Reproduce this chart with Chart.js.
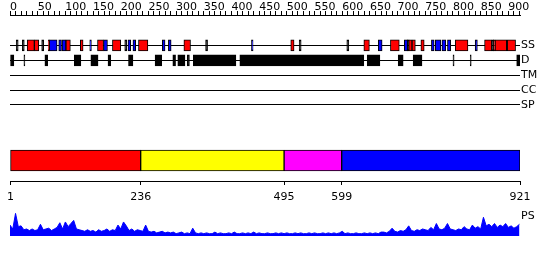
<!DOCTYPE html>
<html>
<head>
<meta charset="utf-8">
<script src="https://cdn.jsdelivr.net/npm/chart.js@4/dist/chart.umd.min.js"></script>
<style>
  body { margin: 0; background: #fff; }
  #wrap { position: relative; width: 550px; height: 260px; }
  canvas { position: absolute; left: 0; }
  #spacer { position: absolute; left: 0; top: 255px; width: 700px; height: 1px; z-index: 10; }
</style>
</head>
<body>
<div id="wrap">
  <canvas id="ruler" width="550" height="20" style="top:0px"></canvas>
  <canvas id="tracks" width="550" height="100" style="top:20px"></canvas>
  <canvas id="domains" width="550" height="65" style="top:140px"></canvas>
  <canvas id="profile" width="550" height="55" style="top:205px"></canvas>
  <div id="spacer"></div>
</div>
<script>
const SEQ_LEN = 921;

// ruler: a tick every 10 residues, a number every 50
const rulerTicks = [];
for (let v = 0; v <= 920; v += 10) rulerTicks.push(v);

const trackRows = ["SS", "D", "TM", "CC", "SP"];

// secondary structure (residue ranges)
const helixSegments = [[31,44],[44,52],[69,71],[101,109],[127,132],[158,169],[185,200],[232,249],[314,326],
  [507,513],[639,649],[687,703],[720,726],[726,732],[742,748],[804,827],[857,870],[873,876],[876,897],[898,913]];
const strandSegments = [[71,85],[88,93],[94,101],[144,147],[169,176],[213,218],[222,227],[275,280],[286,291],
  [436,439],[665,672],[712,718],[761,766],[768,778],[780,787],[790,796],[840,844]];
const ssMarkResidues = [13, 24, 59, 209, 355, 524, 610, 719, 872];

// disorder
const disorderSegments = [[1,7],[63,68],[116,128],[146,159],[177,182],[214,222],[262,274],[294,299],[303,316],
  [320,324],[331,408],[415,639],[645,668],[701,710],[728,744],[800,802],[915,921]];
const disorderMarkResidues = [26, 832];

// domain boundaries
const domainBounds = [1, 236, 495, 599, 921];
const domainColors = ["#ff0000", "#ffff00", "#ff00ff", "#0000ff"];

// PS profile, one score every 5 residues from residue 0
const profileStep = 5;
const profileScores = [
  14,9,29,12,13,8,9,7,9,7, 8,15,8,9,10,7,9,11,17,9,
  18,12,16,20,9,8,7,6,8,6, 7,5,8,6,7,9,6,8,7,14,
  9,18,13,7,9,6,8,7,6,14, 6,5,6,4,5,6,4,5,4,5,
  3,4,5,3,4,3,10,4,3,4, 3,4,3,3,5,3,4,3,3,4,
  3,5,3,3,4,3,4,3,5,3, 4,3,3,4,3,3,4,3,4,3,
  4,3,3,4,3,4,3,3,4,3, 4,3,3,4,3,4,3,4,3,4,
  6,3,4,3,3,4,3,3,4,3, 4,3,4,3,5,5,4,6,10,6,
  5,7,6,8,13,7,6,8,7,9, 8,7,11,8,16,9,8,10,16,9,
  8,7,9,8,12,9,8,14,10,12, 9,24,13,15,12,16,11,14,12,16,
  11,13,10,12,15
];

Chart.defaults.font.family = "'DejaVu Sans', sans-serif";
Chart.defaults.font.size = 11;
Chart.defaults.color = "#000";

const common = {
  responsive: false,
  animation: false,
  devicePixelRatio: 1,
  plugins: { legend: { display: false }, tooltip: { enabled: false } }
};

// ---- ruler ----
const rulerChart = new Chart(document.getElementById("ruler"), {
  type: "scatter",
  data: { datasets: [] },
  options: {
    ...common,
    layout: { padding: { left: 10, right: 30, top: 0, bottom: 0 } },
    scales: {
      x: {
        type: "linear", position: "top", min: 0, max: SEQ_LEN,
        afterBuildTicks: s => { s.ticks = rulerTicks.map(v => ({ value: v })); },
        afterFit: s => { s.height = 15; },
        grid: { drawOnChartArea: false, drawTicks: true, tickLength: 4, color: "#000" },
        border: { color: "#000" },
        ticks: { autoSkip: false, maxRotation: 0, align: "start", padding: -3,
          callback: v => (v % 50 === 0 ? String(v) : "") }
      },
      y: { display: false }
    }
  }
});

// ---- feature tracks ----
const seg = (list, row) => list.map(s => ({ x: s, y: row }));
const marks = (list, row, half) => list.map(r => ({ x: [r - half, r + half], y: row }));
const trackBar = { borderColor: "#000", borderWidth: 1, borderSkipped: false, barThickness: 11, grouped: false };

new Chart(document.getElementById("tracks"), {
  type: "bar",
  data: {
    labels: trackRows,
    datasets: [
      { ...trackBar, data: seg(helixSegments, "SS"), backgroundColor: "#ff0000" },
      { ...trackBar, data: seg(strandSegments, "SS"), backgroundColor: "#0000ff" },
      { ...trackBar, data: marks(ssMarkResidues, "SS", 1.8), backgroundColor: "#000" },
      { ...trackBar, data: seg(disorderSegments, "D"), backgroundColor: "#000" },
      { ...trackBar, data: marks(disorderMarkResidues, "D", 0.9), backgroundColor: "#000" }
    ]
  },
  options: {
    ...common,
    indexAxis: "y",
    layout: { padding: { left: 10, right: 0, top: 18, bottom: 7 } },
    scales: {
      x: { type: "linear", min: 0, max: SEQ_LEN, display: false },
      y: {
        type: "category", position: "right", offset: true,
        afterFit: s => { s.width = 30; },
        grid: { offset: false, color: "#000", drawTicks: false },
        border: { display: false },
        ticks: { padding: 1, autoSkip: false }
      }
    }
  }
});

// ---- domains ----
const domainChart = new Chart(document.getElementById("domains"), {
  type: "bar",
  data: {
    labels: ["dom"],
    datasets: [{
      data: domainColors.map((c, i) => ({ x: [domainBounds[i], domainBounds[i + 1]], y: "dom" })),
      backgroundColor: domainColors,
      borderColor: "#000", borderWidth: 1, borderSkipped: false, barThickness: 21, grouped: false
    }]
  },
  options: {
    ...common,
    indexAxis: "y",
    layout: { padding: { left: 10, right: 30, top: 0, bottom: 0 } },
    scales: {
      x: {
        type: "linear", position: "bottom", min: 0, max: SEQ_LEN,
        afterBuildTicks: s => { s.ticks = domainBounds.map(v => ({ value: v })); },
        afterFit: s => { s.height = 24; },
        grid: { drawOnChartArea: false, tickLength: 4, color: "#000" },
        border: { color: "#000" },
        ticks: { autoSkip: false, maxRotation: 0, padding: 6 }
      },
      y: { display: false }
    }
  }
});

// ---- PS profile ----
new Chart(document.getElementById("profile"), {
  type: "line",
  data: {
    datasets: [{
      data: profileScores.map((v, i) => ({ x: i * profileStep, y: v })),
      borderColor: "#0000ff", backgroundColor: "#0000ff", borderWidth: 1,
      pointRadius: 0, tension: 0, fill: "origin"
    }]
  },
  options: {
    ...common,
    layout: { padding: { left: 10, right: 0, top: 1, bottom: 24 } },
    scales: {
      x: { type: "linear", min: 0, max: SEQ_LEN, display: false },
      y: {
        min: 0, max: 30, position: "right",
        afterFit: s => { s.width = 30; },
        afterBuildTicks: s => { s.ticks = [{ value: 25.5 }]; },
        grid: { display: false, drawTicks: false },
        border: { display: false },
        ticks: { padding: 1, callback: () => "PS" }
      }
    }
  }
});

// redraw the domain chart once more on the next frame
requestAnimationFrame(() => domainChart.draw());
</script>
</body>
</html>
